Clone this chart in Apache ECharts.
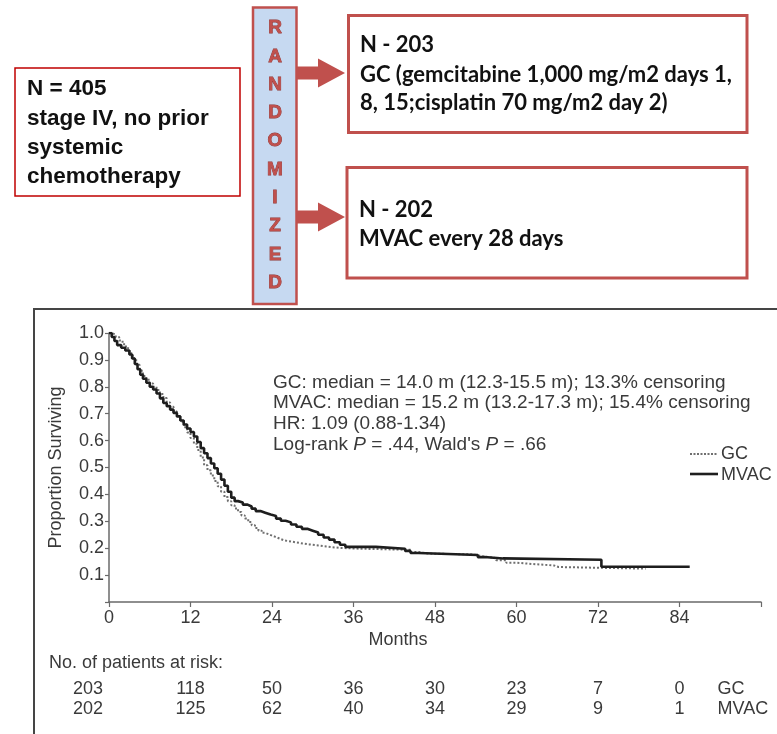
<!DOCTYPE html>
<html>
<head>
<meta charset="utf-8">
<script src="https://cdn.jsdelivr.net/npm/echarts@6/dist/echarts.min.js"></script>
<style>
  html, body { margin: 0; padding: 0; background: #fff; }
  #chart { width: 777px; height: 734px; }
</style>
</head>
<body>
<div id="chart"></div>
<script>
// Kaplan-Meier overall survival, GC vs MVAC (months, proportion surviving)
const gcMonths = [0, 0.5, 1, 1.5, 2, 2.5, 3, 3.5, 4, 4.5, 5, 5.5, 6, 6.5, 7, 7.5, 8, 8.5, 9, 9.5, 10, 10.5, 11, 11.5, 12, 12.5, 13, 13.5, 14, 14.5, 15, 15.5, 16, 16.5, 17, 17.5, 18, 18.5, 19, 19.5, 20, 20.5, 21, 21.5, 22, 22.5, 23, 23.7, 24.4, 25.1, 25.8, 27, 28.2, 29.5, 30.8, 32, 34, 37, 44.5, 45.5, 47, 53.5, 55, 57, 58.5, 60, 63, 65.5, 66.2, 79];
const gcSurv   = [1.0, 0.993, 0.985, 0.972, 0.958, 0.943, 0.925, 0.905, 0.882, 0.86, 0.84, 0.826, 0.812, 0.8, 0.788, 0.773, 0.758, 0.742, 0.726, 0.708, 0.69, 0.67, 0.65, 0.63, 0.61, 0.588, 0.565, 0.537, 0.508, 0.49, 0.47, 0.45, 0.43, 0.41, 0.39, 0.375, 0.36, 0.348, 0.335, 0.322, 0.31, 0.297, 0.285, 0.275, 0.265, 0.257, 0.25, 0.243, 0.236, 0.229, 0.224, 0.219, 0.214, 0.21, 0.206, 0.201, 0.198, 0.194, 0.186, 0.18, 0.177, 0.17, 0.163, 0.155, 0.146, 0.14, 0.136, 0.13, 0.124, 0.124];

const mvacMonths = [0, 0.4, 0.8, 1.2, 1.8, 2.4, 3, 3.4, 3.8, 4.2, 4.6, 5, 5.5, 6, 6.5, 7, 7.5, 8, 8.5, 9, 9.5, 10, 10.5, 11, 11.5, 12, 12.5, 13, 13.5, 14, 14.5, 15, 15.5, 16, 16.5, 17, 17.5, 18, 18.5, 19, 19.7, 20.4, 21, 21.6, 22.3, 23, 23.8, 24.6, 25.3, 26, 26.8, 27.6, 28.4, 29.2, 30, 30.8, 31.6, 32.4, 33.2, 34, 34.8, 39.3, 43.6, 44.4, 45.6, 54.3, 55.3, 58, 72.5, 85.5];
const mvacSurv   = [1.0, 0.985, 0.97, 0.955, 0.945, 0.935, 0.92, 0.905, 0.885, 0.865, 0.845, 0.83, 0.815, 0.8, 0.79, 0.775, 0.757, 0.74, 0.728, 0.715, 0.703, 0.69, 0.675, 0.66, 0.645, 0.632, 0.615, 0.595, 0.572, 0.553, 0.535, 0.515, 0.497, 0.477, 0.455, 0.432, 0.41, 0.388, 0.375, 0.37, 0.362, 0.355, 0.347, 0.338, 0.332, 0.325, 0.32, 0.31, 0.302, 0.296, 0.288, 0.28, 0.272, 0.265, 0.258, 0.25, 0.24, 0.232, 0.222, 0.213, 0.205, 0.198, 0.19, 0.182, 0.175, 0.167, 0.162, 0.157, 0.131, 0.131];

// Number at risk table
const riskMonths = [0, 12, 24, 36, 48, 60, 72, 84];
const gcAtRisk   = [203, 118, 50, 36, 30, 23, 7, 0];
const mvacAtRisk = [202, 125, 62, 40, 34, 29, 9, 1];

// Axis ticks
const xTicks = [0, 12, 24, 36, 48, 60, 72, 84];
const yTicks = [0.1, 0.2, 0.3, 0.4, 0.5, 0.6, 0.7, 0.8, 0.9, 1.0];

const FONT = "'Liberation Sans', Arial, Helvetica, sans-serif";
const TXT = '#3a3a3a';
const RED = '#c0504d';
const GC_COLOR = '#6f6f6f';
const MVAC_COLOR = '#1e1e1e';

const chart = echarts.init(document.getElementById('chart'));

const toPairs = (xs, ys) => xs.map((x, i) => [x, ys[i]]);

const option = {
  animation: false,
  backgroundColor: '#fff',
  textStyle: { fontFamily: FONT },
  grid: { left: 109, right: 16, top: 333, bottom: 132, containLabel: false },
  xAxis: {
    type: 'value',
    min: 0,
    max: 96,
    interval: 12,
    name: 'Months',
    nameLocation: 'middle',
    nameGap: 29,
    nameTextStyle: { fontSize: 18, color: TXT, padding: [0, 74, 0, 0] },
    axisLine: { lineStyle: { color: '#6a6a6a', width: 1.5 } },
    axisTick: { show: true, length: 5, lineStyle: { color: '#6a6a6a', width: 1.2 } },
    axisLabel: {
      fontSize: 18, color: TXT, margin: 7,
      formatter: v => (xTicks.indexOf(v) >= 0 ? String(v) : '')
    },
    splitLine: { show: false }
  },
  yAxis: {
    type: 'value',
    min: 0,
    max: 1,
    interval: 0.1,
    name: 'Proportion Surviving',
    nameLocation: 'middle',
    nameGap: 44,
    nameTextStyle: { fontSize: 18, color: TXT },
    axisLine: { show: true, lineStyle: { color: '#6a6a6a', width: 1.5 } },
    axisTick: { show: true, length: 4, lineStyle: { color: '#6a6a6a', width: 1.2 } },
    axisLabel: {
      fontSize: 18, color: TXT, margin: 5,
      formatter: v => {
        const t = yTicks.find(k => Math.abs(k - v) < 1e-6);
        return t === undefined ? '' : t.toFixed(1);
      }
    },
    splitLine: { show: false }
  },
  series: [
    {
      name: 'GC',
      type: 'line',
      step: 'end',
      symbol: 'none',
      data: toPairs(gcMonths, gcSurv),
      lineStyle: { color: GC_COLOR, width: 2, type: [2, 2] },
      itemStyle: { color: GC_COLOR },
      z: 2
    },
    {
      name: 'MVAC',
      type: 'line',
      step: 'end',
      symbol: 'none',
      data: toPairs(mvacMonths, mvacSurv),
      lineStyle: { color: MVAC_COLOR, width: 2.6 },
      itemStyle: { color: MVAC_COLOR },
      z: 3
    }
  ]
};

chart.setOption(option);

// ---- Study design diagram and table overlays ----
const g = [];

// Chart frame
g.push({ type: 'rect', shape: { x: 34, y: 309, width: 800, height: 500 },
  style: { fill: 'none', stroke: '#454545', lineWidth: 2 }, z: 0 });

// Eligible population box
g.push({ type: 'rect', shape: { x: 15, y: 68, width: 225, height: 128 },
  style: { fill: '#fff', stroke: '#c00000', lineWidth: 1.5 } });
['N = 405', 'stage IV, no prior', 'systemic', 'chemotherapy'].forEach((s, i) => {
  g.push({ type: 'text', x: 27, y: 89 + i * 29.3,
    style: { text: s, font: "bold 22.5px 'Liberation Sans', Arial, sans-serif", fill: '#111', textVerticalAlign: 'middle' } });
});

// Randomization column
g.push({ type: 'rect', shape: { x: 253, y: 7.5, width: 43.5, height: 296.5 },
  style: { fill: '#c6d9f1', stroke: RED, lineWidth: 2.5 } });
'RANDOMIZED'.split('').forEach((c, i) => {
  g.push({ type: 'text', x: 275, y: 28 + i * 28.3,
    style: { text: c, font: "bold 19px 'Liberation Sans', Arial, sans-serif", fill: RED,
      stroke: '#8e3431', lineWidth: 0.8, textAlign: 'center', textVerticalAlign: 'middle' } });
});

// Arrows
function arrow(cy) {
  return { type: 'polygon', shape: { points: [
    [297, cy - 6.5], [318, cy - 6.5], [318, cy - 14.5], [345, cy],
    [318, cy + 14.5], [318, cy + 6.5], [297, cy + 6.5]] },
    style: { fill: RED } };
}
g.push(arrow(73));
g.push(arrow(217));

// Arm boxes
g.push({ type: 'rect', shape: { x: 348.5, y: 15.5, width: 398.5, height: 117 },
  style: { fill: '#fff', stroke: RED, lineWidth: 3 } });
g.push({ type: 'rect', shape: { x: 347, y: 167.5, width: 400, height: 110.5 },
  style: { fill: '#fff', stroke: RED, lineWidth: 3 } });
const armFont = "bold 22px Lato, 'Open Sans', sans-serif";
[['N - 203', 45], ['GC (gemcitabine 1,000 mg/m2 days 1,', 75], ['8, 15;cisplatin 70 mg/m2 day 2)', 103]].forEach(([s, y]) => {
  g.push({ type: 'text', x: 360, y: y, style: { text: s, font: armFont, fill: '#111', textVerticalAlign: 'middle' } });
});
[['N - 202', 210], ['MVAC every 28 days', 239]].forEach(([s, y]) => {
  g.push({ type: 'text', x: 359, y: y, style: { text: s, font: armFont, fill: '#111', textVerticalAlign: 'middle' } });
});

// Summary statistics annotation
g.push({ type: 'text', x: 273, y: 372,
  style: {
    text: [
      '{n|GC: median = 14.0 m (12.3-15.5 m); 13.3% censoring}',
      '{n|MVAC: median = 15.2 m (13.2-17.3 m); 15.4% censoring}',
      '{n|HR: 1.09 (0.88-1.34)}',
      "{n|Log-rank }{i|P}{n| = .44, Wald's }{i|P}{n| = .66}"
    ].join('\n'),
    rich: {
      n: { fontSize: 19, fontFamily: FONT, fill: TXT, lineHeight: 20.8 },
      i: { fontSize: 19, fontFamily: FONT, fontStyle: 'italic', fill: TXT, lineHeight: 20.8 }
    }
  } });

// Legend keys
g.push({ type: 'line', shape: { x1: 690, y1: 454, x2: 718, y2: 454 },
  style: { stroke: GC_COLOR, lineWidth: 2, lineDash: [2, 1.5] } });
g.push({ type: 'line', shape: { x1: 690, y1: 474, x2: 718, y2: 474 },
  style: { stroke: MVAC_COLOR, lineWidth: 2.6 } });
g.push({ type: 'text', x: 721, y: 454, style: { text: 'GC', font: "18px 'Liberation Sans', Arial, sans-serif", fill: TXT, textVerticalAlign: 'middle' } });
g.push({ type: 'text', x: 721, y: 475, style: { text: 'MVAC', font: "18px 'Liberation Sans', Arial, sans-serif", fill: TXT, textVerticalAlign: 'middle' } });

// Number at risk table, columns placed on the month axis
const tFont = "18px 'Liberation Sans', Arial, sans-serif";
g.push({ type: 'text', x: 49, y: 663,
  style: { text: 'No. of patients at risk:', font: tFont, fill: TXT, textVerticalAlign: 'middle' } });
riskMonths.forEach((m, i) => {
  const px = chart.convertToPixel({ xAxisIndex: 0 }, m) + (i === 0 ? -21 : 0);
  g.push({ type: 'text', x: px, y: 689,
    style: { text: String(gcAtRisk[i]), font: tFont, fill: TXT, textAlign: 'center', textVerticalAlign: 'middle' } });
  g.push({ type: 'text', x: px, y: 709,
    style: { text: String(mvacAtRisk[i]), font: tFont, fill: TXT, textAlign: 'center', textVerticalAlign: 'middle' } });
});
const rowLabelX = chart.convertToPixel({ xAxisIndex: 0 }, 84) + 38;
g.push({ type: 'text', x: rowLabelX, y: 689, style: { text: 'GC', font: tFont, fill: TXT, textVerticalAlign: 'middle' } });
g.push({ type: 'text', x: rowLabelX, y: 709, style: { text: 'MVAC', font: tFont, fill: TXT, textVerticalAlign: 'middle' } });

chart.setOption({ graphic: g });
</script>
</body>
</html>
